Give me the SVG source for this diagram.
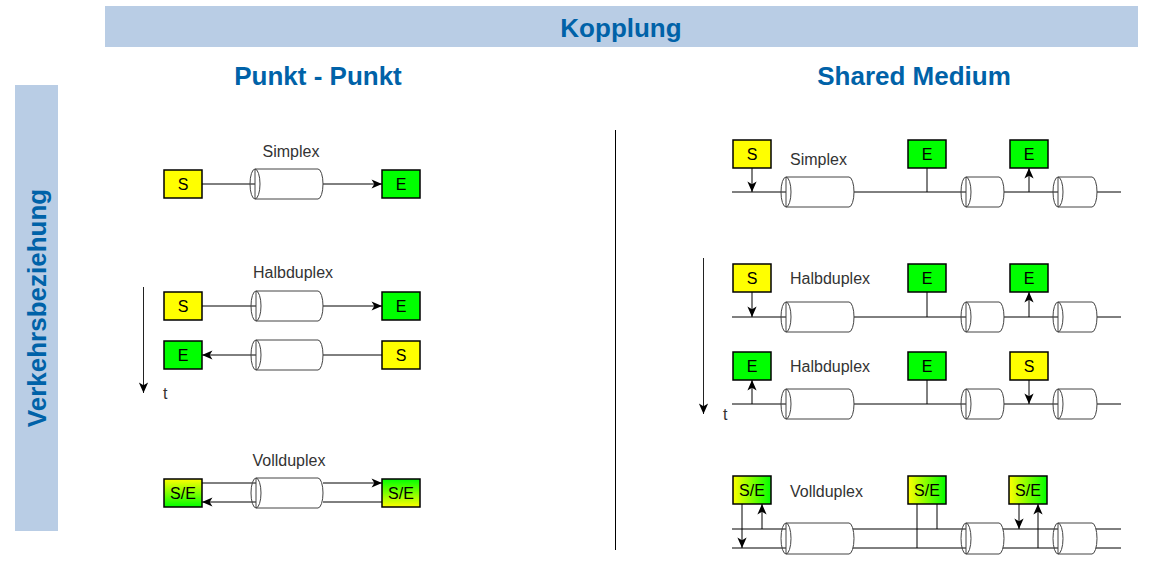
<svg xmlns="http://www.w3.org/2000/svg" width="1154" height="561" viewBox="0 0 1154 561">
<style>
.hdr{fill:#B9CDE5}
.ht{font-family:"Liberation Sans",Arial,sans-serif;font-weight:bold;font-size:26px;fill:#0062A8;text-anchor:middle}
.lbl{font-family:"Liberation Sans",Arial,sans-serif;font-size:16px;fill:#333}
.bt{font-family:"Liberation Sans",Arial,sans-serif;font-size:16px;fill:#000;text-anchor:middle}
.box{stroke:#000;stroke-width:1.5}
.ys{fill:#FFFF00}
.gr{fill:#00FF00}
.ln{stroke:#000;stroke-width:1;fill:none}
.arr{stroke:#000;stroke-width:1;fill:none;marker-end:url(#ah)}
.tarr{stroke:#222;stroke-width:1;fill:none;marker-end:url(#ah)}
.cyl{fill:#fff;stroke:#444;stroke-width:1}
.cyle{fill:none;stroke:#444;stroke-width:1}
</style>
<defs>
<marker id="ah" markerUnits="userSpaceOnUse" viewBox="0 0 10 10" refX="10" refY="5" markerWidth="11" markerHeight="11" orient="auto">
<path d="M0.5,0.8 L10,5 L0.5,9.2 L3,5 z" fill="#000"/>
</marker>
<linearGradient id="gYG_h" x1="0" y1="0" x2="1" y2="0"><stop offset="0" stop-color="#FFFF00"/><stop offset="1" stop-color="#00FF00"/></linearGradient>
<linearGradient id="gYG_v" x1="0" y1="0" x2="0" y2="1"><stop offset="0" stop-color="#FFFF00"/><stop offset="1" stop-color="#00FF00"/></linearGradient>
<linearGradient id="gGY_v" x1="0" y1="0" x2="0" y2="1"><stop offset="0" stop-color="#00FF00"/><stop offset="1" stop-color="#FFFF00"/></linearGradient>
</defs>

<g id="headers">
<rect class="hdr" x="105" y="6" width="1033" height="41"/>
<text class="ht" x="621" y="37">Kopplung</text>
<text class="ht" x="318" y="85">Punkt - Punkt</text>
<text class="ht" x="914" y="85">Shared Medium</text>
<rect class="hdr" x="15" y="85" width="43" height="446"/>
<text class="ht" transform="translate(46,308) rotate(-90)" x="0" y="0">Verkehrsbeziehung</text>
<line x1="615.5" y1="130" x2="615.5" y2="550" stroke="#000" stroke-width="1"/>
</g>

<g id="connectors">
<line class="ln" x1="202" y1="184" x2="255" y2="184"/>
<line class="arr" x1="323" y1="184" x2="382" y2="184"/>
<line class="ln" x1="202" y1="306" x2="256" y2="306"/>
<line class="arr" x1="323" y1="306" x2="382" y2="306"/>
<line class="ln" x1="382" y1="355" x2="323" y2="355"/>
<line class="arr" x1="256" y1="355" x2="202" y2="355"/>
<line class="tarr" x1="143.5" y1="287" x2="143.5" y2="393"/>
<line class="ln" x1="202" y1="483" x2="256" y2="483"/>
<line class="arr" x1="323" y1="483" x2="382" y2="483"/>
<line class="ln" x1="382" y1="502" x2="323" y2="502"/>
<line class="arr" x1="256" y1="502" x2="202" y2="502"/>
<line class="ln" x1="732" y1="192" x2="1121" y2="192"/>
<line class="arr" x1="752" y1="168" x2="752" y2="192"/>
<line class="ln" x1="927" y1="168" x2="927" y2="192"/>
<line class="arr" x1="1029" y1="192" x2="1029" y2="168"/>
<line class="ln" x1="732" y1="317" x2="1121" y2="317"/>
<line class="arr" x1="752" y1="292" x2="752" y2="317"/>
<line class="ln" x1="927" y1="292" x2="927" y2="317"/>
<line class="arr" x1="1029" y1="317" x2="1029" y2="292"/>
<line class="ln" x1="732" y1="404" x2="1121" y2="404"/>
<line class="arr" x1="752" y1="404" x2="752" y2="380"/>
<line class="ln" x1="927" y1="380" x2="927" y2="404"/>
<line class="arr" x1="1029" y1="380" x2="1029" y2="404"/>
<line class="tarr" x1="703.5" y1="258" x2="703.5" y2="414"/>
<line class="ln" x1="732" y1="529" x2="1121" y2="529"/>
<line class="ln" x1="732" y1="548" x2="1121" y2="548"/>
<line class="arr" x1="742" y1="504" x2="742" y2="548"/>
<line class="arr" x1="762" y1="529" x2="762" y2="504"/>
<line class="ln" x1="917" y1="504" x2="917" y2="548"/>
<line class="ln" x1="937" y1="504" x2="937" y2="529"/>
<line class="arr" x1="1019" y1="504" x2="1019" y2="529"/>
<line class="arr" x1="1038" y1="548" x2="1038" y2="504"/>
</g>

<g id="cylinders">
<g id="cyl-l1"><path class="cyl" d="M255,169 L318,169 A5,15 0 0 1 318,199 L255,199 Z"/><ellipse class="cyle" cx="255" cy="184" rx="5" ry="15"/></g>
<g id="cyl-l2"><path class="cyl" d="M256,291 L318,291 A5,15 0 0 1 318,321 L256,321 Z"/><ellipse class="cyle" cx="256" cy="306" rx="5" ry="15"/></g>
<g id="cyl-l3"><path class="cyl" d="M256,340 L318,340 A5,15 0 0 1 318,370 L256,370 Z"/><ellipse class="cyle" cx="256" cy="355" rx="5" ry="15"/></g>
<g id="cyl-l4"><path class="cyl" d="M256,478 L318,478 A5,15 0 0 1 318,508 L256,508 Z"/><ellipse class="cyle" cx="256" cy="493" rx="5" ry="15"/></g>
<g id="cyl-r1a"><path class="cyl" d="M786,177 L849,177 A5,15 0 0 1 849,207 L786,207 Z"/><ellipse class="cyle" cx="786" cy="192" rx="5" ry="15"/></g>
<g id="cyl-r1b"><path class="cyl" d="M966,177 L999,177 A5,15 0 0 1 999,207 L966,207 Z"/><ellipse class="cyle" cx="966" cy="192" rx="5" ry="15"/></g>
<g id="cyl-r1c"><path class="cyl" d="M1058,177 L1092,177 A5,15 0 0 1 1092,207 L1058,207 Z"/><ellipse class="cyle" cx="1058" cy="192" rx="5" ry="15"/></g>
<g id="cyl-r2a"><path class="cyl" d="M786,302 L849,302 A5,15 0 0 1 849,332 L786,332 Z"/><ellipse class="cyle" cx="786" cy="317" rx="5" ry="15"/></g>
<g id="cyl-r2b"><path class="cyl" d="M966,302 L999,302 A5,15 0 0 1 999,332 L966,332 Z"/><ellipse class="cyle" cx="966" cy="317" rx="5" ry="15"/></g>
<g id="cyl-r2c"><path class="cyl" d="M1058,302 L1092,302 A5,15 0 0 1 1092,332 L1058,332 Z"/><ellipse class="cyle" cx="1058" cy="317" rx="5" ry="15"/></g>
<g id="cyl-r3a"><path class="cyl" d="M786,389 L849,389 A5,15 0 0 1 849,419 L786,419 Z"/><ellipse class="cyle" cx="786" cy="404" rx="5" ry="15"/></g>
<g id="cyl-r3b"><path class="cyl" d="M966,389 L999,389 A5,15 0 0 1 999,419 L966,419 Z"/><ellipse class="cyle" cx="966" cy="404" rx="5" ry="15"/></g>
<g id="cyl-r3c"><path class="cyl" d="M1058,389 L1092,389 A5,15 0 0 1 1092,419 L1058,419 Z"/><ellipse class="cyle" cx="1058" cy="404" rx="5" ry="15"/></g>
<g id="cyl-r4a"><path class="cyl" d="M786,523 L849,523 A5,15.5 0 0 1 849,554 L786,554 Z"/><ellipse class="cyle" cx="786" cy="538.5" rx="5" ry="15.5"/></g>
<g id="cyl-r4b"><path class="cyl" d="M966,523 L999,523 A5,15.5 0 0 1 999,554 L966,554 Z"/><ellipse class="cyle" cx="966" cy="538.5" rx="5" ry="15.5"/></g>
<g id="cyl-r4c"><path class="cyl" d="M1058,523 L1092,523 A5,15.5 0 0 1 1092,554 L1058,554 Z"/><ellipse class="cyle" cx="1058" cy="538.5" rx="5" ry="15.5"/></g>
</g>

<g id="labels">
<text class="lbl" x="291" y="157" text-anchor="middle">Simplex</text>
<text class="lbl" x="293" y="278" text-anchor="middle">Halbduplex</text>
<text class="lbl" x="289" y="466" text-anchor="middle">Vollduplex</text>
<text class="lbl" x="163" y="399">t</text>
<text class="lbl" x="790" y="165">Simplex</text>
<text class="lbl" x="790" y="284">Halbduplex</text>
<text class="lbl" x="790" y="372">Halbduplex</text>
<text class="lbl" x="790" y="497">Vollduplex</text>
<text class="lbl" x="723" y="420">t</text>
</g>

<g id="node-l-simplex-s"><rect class="box ys" x="164" y="170" width="38" height="28"/><text class="bt" x="183" y="190">S</text></g>
<g id="node-l-simplex-e"><rect class="box gr" x="382" y="170" width="38" height="28"/><text class="bt" x="401" y="190">E</text></g>
<g id="node-l-halb1-s"><rect class="box ys" x="164" y="292" width="38" height="28"/><text class="bt" x="183" y="312">S</text></g>
<g id="node-l-halb1-e"><rect class="box gr" x="382" y="292" width="38" height="28"/><text class="bt" x="401" y="312">E</text></g>
<g id="node-l-halb2-e"><rect class="box gr" x="164" y="341" width="38" height="28"/><text class="bt" x="183" y="361">E</text></g>
<g id="node-l-halb2-s"><rect class="box ys" x="382" y="341" width="38" height="28"/><text class="bt" x="401" y="361">S</text></g>
<g id="node-l-voll-1"><rect class="box" fill="url(#gYG_v)" x="164" y="479" width="38" height="28"/><text class="bt" x="183" y="499">S/E</text></g>
<g id="node-l-voll-2"><rect class="box" fill="url(#gGY_v)" x="382" y="479" width="38" height="28"/><text class="bt" x="401" y="499">S/E</text></g>
<g id="node-r-simplex-s"><rect class="box ys" x="733" y="140" width="38" height="28"/><text class="bt" x="752" y="160">S</text></g>
<g id="node-r-simplex-e1"><rect class="box gr" x="908" y="140" width="38" height="28"/><text class="bt" x="927" y="160">E</text></g>
<g id="node-r-simplex-e2"><rect class="box gr" x="1010" y="140" width="38" height="28"/><text class="bt" x="1029" y="160">E</text></g>
<g id="node-r-halb1-s"><rect class="box ys" x="733" y="264" width="38" height="28"/><text class="bt" x="752" y="284">S</text></g>
<g id="node-r-halb1-e1"><rect class="box gr" x="908" y="264" width="38" height="28"/><text class="bt" x="927" y="284">E</text></g>
<g id="node-r-halb1-e2"><rect class="box gr" x="1010" y="264" width="38" height="28"/><text class="bt" x="1029" y="284">E</text></g>
<g id="node-r-halb2-e"><rect class="box gr" x="733" y="352" width="38" height="28"/><text class="bt" x="752" y="372">E</text></g>
<g id="node-r-halb2-e1"><rect class="box gr" x="908" y="352" width="38" height="28"/><text class="bt" x="927" y="372">E</text></g>
<g id="node-r-halb2-s"><rect class="box ys" x="1010" y="352" width="38" height="28"/><text class="bt" x="1029" y="372">S</text></g>
<g id="node-r-voll-1"><rect class="box" fill="url(#gYG_h)" x="733" y="476" width="38" height="28"/><text class="bt" x="752" y="496">S/E</text></g>
<g id="node-r-voll-2"><rect class="box" fill="url(#gYG_h)" x="908" y="476" width="38" height="28"/><text class="bt" x="927" y="496">S/E</text></g>
<g id="node-r-voll-3"><rect class="box" fill="url(#gYG_h)" x="1009" y="476" width="38" height="28"/><text class="bt" x="1028" y="496">S/E</text></g>
</svg>
